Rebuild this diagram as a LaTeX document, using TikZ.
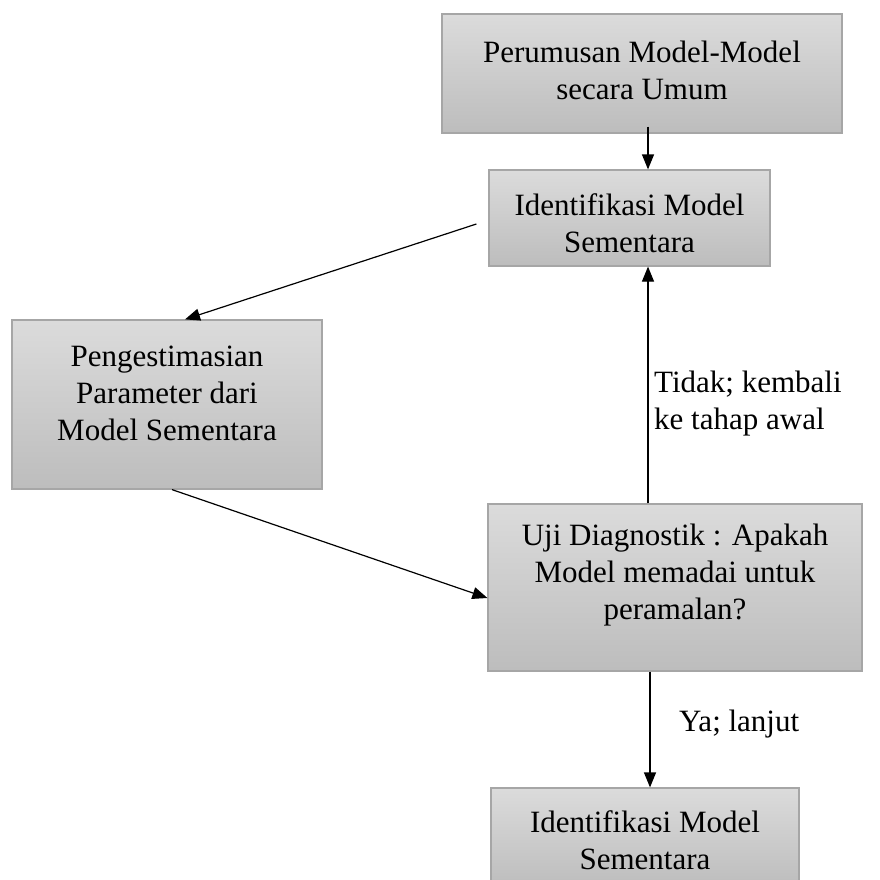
\documentclass[tikz,border=0pt]{standalone}
\usepackage{fontspec}
\setmainfont{Liberation Serif}
\usetikzlibrary{arrows.meta,calc}
\begin{document}
\begin{tikzpicture}[x=1pt,y=-1pt,
  box/.style={draw=black!35, line width=1.2pt, top color=black!14, bottom color=black!26, shading angle=0, inner sep=0pt, rectangle},
  txt/.style={align=center, inner sep=0pt, font=\fontsize{31}{37}\selectfont},
  lbl/.style={align=left, inner sep=0pt, font=\fontsize{31}{37}\selectfont},
  arr/.style={line width=1.2pt, -{Triangle[length=15pt,width=12pt]}}]
\useasboundingbox (0,0) rectangle (880,880);
\fill[white] (0,0) rectangle (880,880);
% boxes
\node[box, minimum width=400pt, minimum height=119pt] (b1) at (642,73.5) {};
\node[box, minimum width=281pt, minimum height=96pt] (b2) at (629.5,218) {};
\node[box, minimum width=310pt, minimum height=169pt] (b3) at (167,404.5) {};
\node[box, minimum width=374pt, minimum height=167pt] (b4) at (675,587.5) {};
\node[box, minimum width=308pt, minimum height=100pt] (b5) at (645,838) {};
% texts
\node[txt] (t1) at (642,70) {Perumusan Model-Model\\secara Umum};
\node[txt] (t2) at (629.5,223) {Identifikasi Model\\Sementara};
\node[txt] (t3) at (167,393.5) {Pengestimasian\\Parameter dari\\Model Sementara};
\node[txt] (t4) at (675,575.5) {Uji Diagnostik : Apakah\\Model memadai untuk\\peramalan?};
\node[txt] (t5) at (645,840) {Identifikasi Model\\Sementara};
% labels
\node[lbl, anchor=west] (l1) at (654,404) {Tidak; kembali\\ke tahap awal};
\node[lbl, anchor=west] (l2) at (679,724) {Ya; lanjut};
% connectors
\draw[arr] ([xshift=6pt,yshift=7pt]b1.south) -- ([xshift=6pt]b1.south |- b2.north);
\draw[arr] ([xshift=-12pt,yshift=-6pt]b2.west) -- ([xshift=18pt]b3.north);
\draw[arr] ([xshift=5pt]b3.south) -- ([yshift=-10.5pt]b4.west);
\draw[arr] ([xshift=-27pt]b4.north) -- ([xshift=-27pt]b4.north |- b2.south);
\draw[arr] ([xshift=-25pt]b4.south) -- ([xshift=-25pt]b4.south |- b5.north);
\end{tikzpicture}
\end{document}
